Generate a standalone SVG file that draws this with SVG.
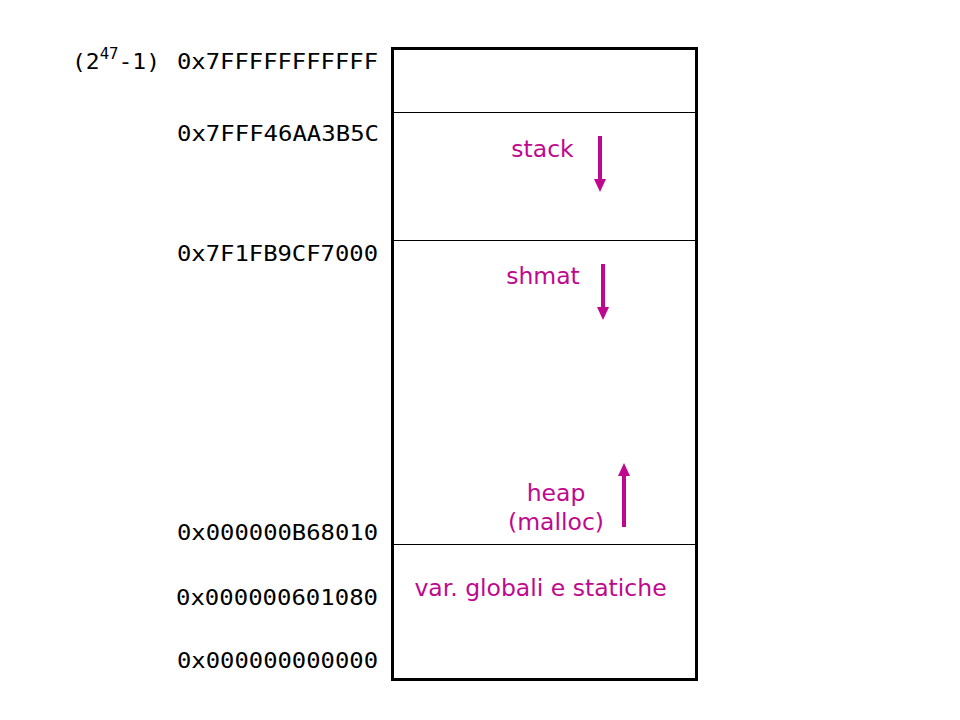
<svg xmlns="http://www.w3.org/2000/svg" width="960" height="720" viewBox="0 0 960 720">
<style>
.addr{font-family:"DejaVu Sans Mono","Liberation Mono",monospace;font-size:22px;fill:#000}
.lbl{font-family:"DejaVu Sans","Verdana",sans-serif;font-size:23.5px;fill:#C0088F}
.div{stroke:#000;stroke-width:1.2}
.arr{stroke:#C0088F;stroke-width:4;fill:none}
.head{fill:#C0088F}
</style>
<rect width="960" height="720" fill="#fff"/>
<g id="memory">
<rect x="392.5" y="48.5" width="304" height="631" fill="none" stroke="#000" stroke-width="3"/>
<line class="div" x1="392" y1="112.5" x2="696" y2="112.5"/>
<line class="div" x1="392" y1="240.5" x2="696" y2="240.5"/>
<line class="div" x1="392" y1="544.5" x2="696" y2="544.5"/>
</g>
<g id="addresses">
<text x="72" y="69" class="addr" font-size="24" textLength="88" lengthAdjust="spacingAndGlyphs">(2<tspan font-size="15" dy="-10">47</tspan><tspan dy="10">-1)</tspan></text>
<text x="177" y="69" class="addr" textLength="201" lengthAdjust="spacingAndGlyphs">0x7FFFFFFFFFFF</text>
<text x="177" y="141" class="addr" textLength="202" lengthAdjust="spacingAndGlyphs">0x7FFF46AA3B5C</text>
<text x="177" y="261" class="addr" textLength="201" lengthAdjust="spacingAndGlyphs">0x7F1FB9CF7000</text>
<text x="177" y="540" class="addr" textLength="201" lengthAdjust="spacingAndGlyphs">0x000000B68010</text>
<text x="176" y="605" class="addr" textLength="202" lengthAdjust="spacingAndGlyphs">0x000000601080</text>
<text x="177" y="668" class="addr" textLength="201" lengthAdjust="spacingAndGlyphs">0x000000000000</text>
</g>
<g id="stack">
<text x="542.5" y="157" class="lbl" text-anchor="middle">stack</text>
</g>
<g id="shmat">
<text x="543" y="284" class="lbl" text-anchor="middle">shmat</text>
</g>
<g id="heap">
<text x="556" y="501" class="lbl" text-anchor="middle">heap</text>
<text x="556" y="530" class="lbl" text-anchor="middle">(malloc)</text>
</g>
<g id="globals">
<text x="540.5" y="596" class="lbl" text-anchor="middle">var. globali e statiche</text>
</g>
<g id="connectors">
<line class="arr" x1="600" y1="136" x2="600" y2="181"/>
<polygon class="head" points="594,179 606,179 600,192"/>
<line class="arr" x1="603" y1="264" x2="603" y2="309"/>
<polygon class="head" points="597,307 609,307 603,320"/>
<line class="arr" x1="624" y1="527" x2="624" y2="474"/>
<polygon class="head" points="618,476 630,476 624,463"/>
</g>
</svg>
